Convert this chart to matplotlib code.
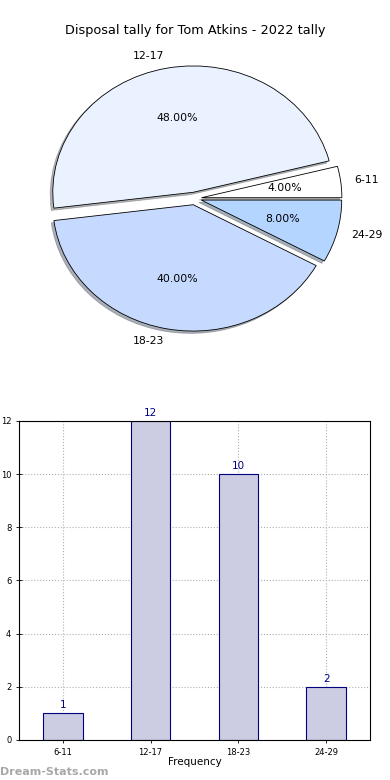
import matplotlib
matplotlib.use("Agg")
import matplotlib.pyplot as plt
import numpy as np

categories = ["6-11", "12-17", "18-23", "24-29"]
counts = [1, 12, 10, 2]
pie_colors = ["#ffffff", "#eaf1ff", "#c6d9ff", "#b3d5ff"]
title = "Disposal tally for Tom Atkins - 2022 tally"

fig = plt.figure(figsize=(3.9, 7.8), dpi=100)

# Pie
axp = fig.add_axes([0.0487, 0.543, 0.9, 0.405])
wedges, texts, autotexts = axp.pie(
    counts, labels=categories, colors=pie_colors, explode=[0.05] * 4,
    autopct="%1.2f%%", startangle=0,
    shadow={"ox": -0.013, "oy": -0.013, "shade": 0.55},
    wedgeprops=dict(edgecolor="black", linewidth=0.6),
    textprops=dict(fontsize=7.8))
axp.set_aspect("auto")
axp.set_xlim(-1.25, 1.25)
axp.set_ylim(-1.25, 1.25)
fig.text(0.5, 0.961, title, ha="center", va="center", fontsize=9.3)

# Bar
axb = fig.add_axes([0.0487, 0.0513, 0.9, 0.409])
x = np.arange(len(categories))
bars = axb.bar(x, counts, width=0.45, color="#ccccE3", edgecolor="#000080", linewidth=0.8, zorder=2)
for xi, c in zip(x, counts):
    axb.text(xi, c + 0.12, str(c), ha="center", va="bottom", fontsize=7.5, color="#000080")
axb.set_xlim(-0.5, 3.5)
axb.set_ylim(0, 12)
axb.set_xticks(x)
axb.set_xticklabels(categories)
axb.set_yticks(range(0, 13, 2))
axb.tick_params(labelsize=6, direction="inout", length=4, width=0.6, colors="black")
axb.grid(True, linestyle=":", color="#b0b0b0", linewidth=0.8, zorder=0)
axb.set_axisbelow(True)
axb.set_xlabel("Frequency", fontsize=7.5, labelpad=0)
axb.set_ylabel("Disposal tally", fontsize=7, labelpad=5)
for s in axb.spines.values():
    s.set_linewidth(0.8)

fig.text(0.0, 0.004, "Dream-Stats.com", fontsize=8, color="#a8a8a8", ha="left", va="bottom", fontweight="bold")

fig.savefig("out.png", dpi=100)
